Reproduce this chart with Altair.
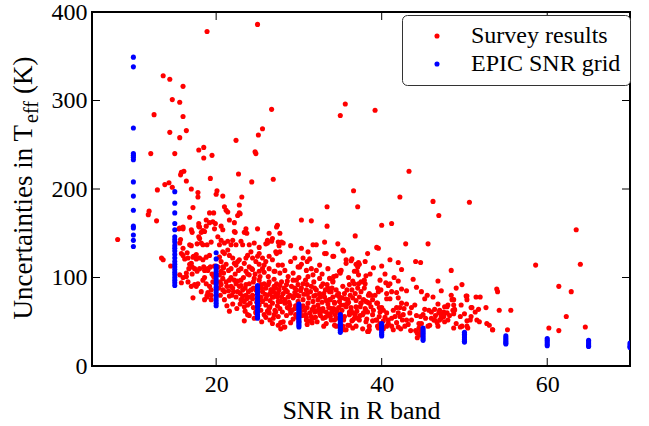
import altair as alt
import pandas as pd

FONT = "'Liberation Serif', 'Times New Roman', Times, serif"

# ---------------- data ----------------
series_names = ["Survey results", "EPIC SNR grid"]
series_colors = ["#ff0000", "#0000ff"]

# EPIC SNR grid: SNR value and the uncertainties plotted at that SNR
blue_snr = [10, 15, 20, 25, 30, 35, 40, 45, 50, 55, 60, 65, 70]
blue_unc = [
    [349, 338, 269, 240, 238, 236, 233, 208, 192, 176, 158, 156, 148, 142, 135],
    [197, 184, 173, 161, 154, 146, 143, 140, 136, 133, 130, 126, 122, 118, 115, 112, 109, 106, 103, 100, 97, 94, 91],
    [128, 121, 113, 110, 107, 104, 101, 98, 95, 92, 89, 86, 83, 80, 77, 74, 71, 68],
    [91, 88, 86, 83, 81, 78, 76, 73, 71, 68, 66, 63, 61, 58, 56, 54],
    [70, 68, 66, 64, 62, 60, 58, 56, 54, 52, 50, 48, 46, 44],
    [58, 56, 54, 52, 50, 48, 46, 44, 42, 40, 38],
    [48, 46, 44, 42, 40, 38, 36, 34],
    [43, 41, 39, 37, 35, 33, 31, 29],
    [38, 36, 34, 32, 30, 28, 27],
    [34, 32, 30, 28, 26, 25],
    [31, 29, 27, 25, 23],
    [29, 27, 25, 23, 22],
    [26, 24, 22, 21],
]

# Survey results: (SNR, uncertainty) pairs
red_sparse_left = [
    (8.1, 143), (11.8, 171), (11.9, 175), (12.1, 240), (12.5, 284), (12.8, 164), (12.9, 199),
    (13.4, 122), (13.6, 120), (13.6, 328), (13.8, 205), (14.3, 207), (14.4, 324), (14.4, 264),
    (14.5, 113), (14.7, 301), (14.7, 202), (15.0, 240), (15.5, 155), (15.6, 298), (15.6, 258),
    (15.7, 216), (15.8, 219), (16.0, 316), (16.0, 282), (16.1, 220), (16.4, 266), (16.4, 209),
    (16.8, 168), (17.0, 200), (17.2, 179), (17.8, 196), (17.8, 191), (17.9, 244), (18.5, 247),
    (18.5, 235), (18.9, 378), (19.3, 212), (19.5, 238), (20.1, 198), (20.0, 194), (20.8, 192),
    (22.4, 255), (22.7, 217), (23.1, 191), (24.3, 208), (24.7, 242), (24.8, 240), (25.0, 386),
    (25.1, 261), (25.6, 268), (26.7, 290), (26.9, 211),
]

red_sparse_right = [
    (35.0, 283), (35.6, 296), (36.6, 198), (37.1, 180), (39.2, 289), (42.2, 191), (43.3, 220),
    (46.2, 186), (46.9, 170), (50.6, 185), (36.8, 147), (63.5, 154), (42.9, 138), (45.6, 138),
    (39.6, 133), (38.3, 127), (41.2, 161), (40.0, 159), (58.6, 114), (64.0, 115), (61.4, 90),
    (62.9, 84), (62.3, 56), (60.2, 43), (64.6, 44), (61.4, 40), (55.6, 63), (54.2, 63),
    (52.6, 66), (55.2, 41), (53.4, 41), (53.9, 87), (54.0, 84), (51.9, 78), (50.3, 79),
    (49.7, 92), (48.4, 108), (46.8, 96), (44.2, 89), (44.1, 118), (44.7, 117), (42.4, 109),
    (33.4, 180), (30.3, 165), (31.5, 164), (33.4, 158), (27.4, 159),
]

red_upper = [
    (15.6, 156), (16.0, 155), (17.0, 154), (17.1, 151), (18.0, 157), (18.6, 152), (18.8, 158),
    (19.8, 155), (20.8, 154), (22.2, 152), (23.6, 155), (23.4, 151), (25.0, 155), (26.4, 150),
    (27.3, 157), (27.7, 150), (19.2, 173), (19.7, 173), (21.0, 180), (21.2, 176), (21.4, 174),
    (22.8, 182), (22.8, 173), (22.6, 170), (22.9, 172), (18.8, 165), (19.2, 162), (19.6, 163),
    (19.9, 161), (20.6, 158), (21.6, 165), (22.2, 162), (17.9, 161), (17.9, 158), (18.2, 151),
    (18.4, 153), (22.3, 151), (23.7, 150), (16.0, 157),
    (15.6, 139), (15.7, 143), (16.8, 137), (17.0, 136), (17.7, 138), (17.9, 146), (18.0, 144),
    (18.2, 139), (18.4, 137), (18.9, 137), (19.4, 140), (20.2, 146), (20.4, 137), (20.6, 142),
    (21.0, 139), (21.4, 141), (21.8, 137), (22.0, 142), (22.4, 137), (23.0, 141), (23.2, 137),
    (24.0, 137), (24.6, 139), (25.2, 134), (26.2, 139), (26.8, 144), (27.5, 140), (26.0, 138),
    (26.2, 142), (27.9, 140), (27.6, 136), (29.0, 136), (30.3, 133), (31.1, 129), (32.1, 137),
    (33.1, 140), (34.7, 138), (35.4, 130), (34.2, 124), (33.3, 127), (26.7, 141), (28.1, 139),
    (31.7, 137), (27.7, 129), (27.3, 127), (33.1, 127), (34.1, 124), (35.3, 131), (39.4, 134),
    (15.8, 127), (16.0, 125), (16.5, 128), (16.0, 133), (16.6, 122), (17.2, 123), (17.6, 126),
    (18.0, 122), (18.4, 120), (18.8, 123), (19.2, 125), (16.2, 121), (17.3, 124), (17.6, 121),
    (20.4, 123), (20.8, 129), (21.0, 127), (21.4, 131), (21.6, 125), (22.0, 122), (22.8, 120),
    (23.6, 122), (23.8, 125), (24.2, 129), (24.4, 122), (25.0, 124), (25.2, 127), (25.6, 122),
    (26.4, 124), (27.2, 129), (26.8, 120), (29.5, 122), (30.5, 122), (31.3, 121), (35.7, 120),
    (36.3, 119), (36.4, 121), (37.3, 115), (37.1, 112), (36.9, 115), (37.2, 117),
]

red_mid = [
    (17.0, 116), (17.1, 112), (16.8, 115), (16.7, 110), (17.4, 110), (18.0, 110), (18.6, 108),
    (19.0, 110), (18.5, 112), (19.0, 108), (19.8, 113), (19.3, 112), (22.2, 116), (22.4, 114),
    (22.6, 118), (21.8, 110), (21.2, 115), (20.8, 112), (20.6, 118), (23.0, 110), (23.4, 116),
    (24.8, 118), (25.8, 114), (26.0, 118), (27.5, 114), (23.6, 107), (24.0, 103), (24.4, 109),
    (25.2, 107), (25.6, 110), (26.4, 110), (27.0, 107), (20.9, 111), (20.2, 112), (20.6, 107),
    (20.9, 105), (21.5, 108), (22.7, 108), (24.3, 110), (24.0, 112), (25.2, 115), (28.0, 114),
    (29.0, 118), (30.1, 112), (31.0, 118), (32.5, 114), (33.5, 110), (30.3, 115), (29.9, 112),
    (31.5, 110), (32.1, 108), (30.9, 108), (27.1, 107), (28.3, 108), (34.9, 107), (35.1, 108),
    (36.7, 107), (35.0, 105), (37.0, 107), (37.2, 103), (38.1, 102), (38.6, 104), (40.4, 104),
    (40.0, 113), (41.0, 120), (42.0, 117), (39.0, 111), (38.0, 118), (35.7, 116),
    (15.6, 103), (16.0, 100), (16.4, 105), (17.1, 104), (17.7, 107), (18.6, 100), (19.5, 104),
    (19.7, 101), (16.4, 101), (20.4, 103), (20.8, 99), (21.8, 100), (22.3, 104), (23.3, 100),
    (23.8, 104), (24.7, 104), (25.3, 101), (25.8, 106), (26.3, 101), (27.7, 105), (28.7, 101),
    (29.3, 105), (29.3, 97), (30.0, 100), (31.1, 101), (31.7, 103), (32.5, 99), (32.8, 104),
    (33.7, 99), (34.5, 102), (36.0, 100), (34.1, 96), (34.2, 101), (36.5, 96), (37.9, 97),
    (39.8, 97), (41.5, 100), (18.4, 97), (21.6, 97), (23.0, 97), (24.6, 99), (25.2, 97),
    (27.0, 98), (29.7, 97), (22.2, 97), (15.8, 94), (16.6, 95), (19.6, 95), (21.2, 95),
    (26.4, 95), (28.6, 96), (31.8, 95), (34.1, 95), (37.5, 95), (38.0, 93), (37.2, 93),
]

red_low1 = [
    (17.6, 90), (17.4, 92), (17.8, 93), (18.8, 93), (19.2, 90), (17.0, 90), (18.2, 84),
    (19.0, 83), (19.4, 86), (17.2, 77), (18.9, 78), (18.9, 80), (19.4, 75), (18.6, 75),
    (19.4, 80), (20.6, 92), (21.8, 90), (22.0, 88), (22.4, 93), (22.6, 84), (22.8, 90),
    (23.2, 86), (23.6, 92), (24.0, 93), (24.2, 86), (24.4, 80), (25.4, 92), (25.6, 84),
    (25.8, 93), (26.0, 88), (26.2, 80), (26.6, 86), (26.8, 78), (27.0, 90), (27.2, 82),
    (27.5, 73), (22.4, 78), (23.0, 75), (23.4, 73), (23.8, 69), (23.6, 80), (25.6, 73),
    (26.0, 69), (26.8, 71), (25.2, 69), (24.0, 78), (21.0, 84), (20.3, 88), (20.5, 95),
    (20.5, 80), (21.0, 75), (21.9, 80), (21.5, 85), (23.2, 79), (23.9, 84), (24.5, 88),
    (25.0, 83), (25.4, 78), (24.9, 72), (24.1, 71), (22.9, 70), (22.6, 96), (23.5, 88),
    (24.5, 95), (25.5, 88), (26.3, 92), (26.0, 76), (26.5, 82), (27.2, 88), (27.9, 78),
    (28.4, 86), (28.9, 80), (29.5, 83), (30.0, 79), (30.6, 81), (31.2, 77), (31.8, 79),
    (32.3, 75), (32.8, 72), (33.5, 70), (27.8, 73), (28.3, 75), (28.8, 72), (27.4, 78),
    (32.7, 90), (33.4, 92), (34.0, 88), (34.8, 82), (35.8, 86), (36.8, 82), (36.0, 72),
    (34.9, 73), (33.0, 82), (31.0, 92), (29.9, 92), (26.7, 86), (29.5, 88), (28.5, 92),
    (27.9, 95), (27.3, 93), (30.3, 88), (30.5, 93), (30.9, 86), (31.5, 90), (32.1, 86),
    (32.5, 82), (32.9, 93), (33.5, 88), (33.9, 84), (34.5, 86), (35.3, 90), (36.1, 92),
    (36.7, 93), (37.1, 88), (37.5, 84), (38.5, 82), (39.2, 80), (39.6, 84), (37.3, 78),
    (36.5, 77), (35.9, 75), (35.5, 82), (34.9, 78), (34.3, 71), (33.7, 75), (33.1, 78),
    (29.7, 86), (29.1, 90), (26.9, 78), (27.5, 82), (28.1, 82), (28.7, 78), (29.3, 77),
    (29.9, 73), (30.5, 75), (31.1, 71), (31.7, 73), (38.7, 80), (38.4, 80), (39.5, 88),
    (39.9, 86), (40.5, 94), (40.6, 76), (38.5, 71), (39.5, 71), (40.8, 91), (41.0, 93),
    (42.4, 87), (41.8, 83), (41.2, 84), (40.6, 82), (41.0, 76), (38.9, 75), (37.8, 75),
    (38.3, 72), (35.6, 76), (34.1, 78), (33.7, 84), (33.8, 75), (35.9, 71), (38.1, 73),
    (39.4, 71), (37.5, 71), (42.0, 77), (43.0, 85), (44.8, 84), (45.2, 76), (46.2, 78),
    (47.2, 85), (49.0, 88), (45.5, 80), (48.4, 80), (48.5, 75), (50.2, 79), (50.3, 75),
    (48.7, 75), (51.4, 78), (43.8, 98), (42.0, 96),
    (28.2, 88), (29.8, 80), (31.4, 84), (32.0, 80), (33.2, 86), (30.8, 97), (27.6, 86),
    (25.0, 90), (24.4, 76), (22.9, 82), (21.3, 90), (20.8, 86), (36.4, 86), (37.9, 88),
    (22.1, 84), (23.0, 91), (24.8, 86), (25.9, 81), (26.9, 84), (27.7, 91), (28.6, 84),
    (29.4, 79), (30.2, 85), (31.0, 81), (31.9, 88), (32.6, 78), (33.3, 74), (34.6, 80),
    (35.2, 77), (36.2, 80), (36.9, 74), (21.6, 79), (23.7, 76), (25.2, 75), (26.5, 74),
]

red_low2 = [
    (21.6, 62), (21.3, 68), (22.5, 65), (22.0, 70), (23.5, 62), (23.8, 58), (24.0, 57),
    (24.6, 54), (23.4, 67), (23.3, 74), (24.5, 66), (24.8, 60), (25.4, 63), (25.5, 50),
    (26.0, 55), (26.5, 52), (27.0, 58), (25.8, 58), (26.8, 48), (26.4, 65), (26.4, 60),
    (27.2, 61), (27.5, 56), (26.5, 67), (27.1, 63), (27.7, 65), (28.0, 61), (28.5, 57),
    (28.9, 64), (28.3, 71), (28.9, 69), (29.5, 65), (29.0, 60), (29.6, 58), (30.2, 62),
    (30.8, 58), (31.5, 56), (32.0, 62), (32.6, 57), (33.2, 55), (33.8, 59), (34.4, 58),
    (29.3, 53), (30.0, 50), (31.0, 47), (32.2, 50), (33.0, 45), (29.9, 70), (30.5, 68),
    (31.0, 66), (31.6, 64), (30.3, 67), (30.7, 63), (31.3, 60), (31.9, 61), (32.5, 60),
    (32.3, 69), (32.9, 65), (33.3, 61), (33.9, 65), (34.5, 63), (35.1, 69), (35.7, 67),
    (36.3, 63), (36.9, 67), (37.5, 71), (38.7, 67), (39.8, 61), (38.9, 58), (38.3, 61),
    (37.7, 58), (37.1, 54), (36.5, 52), (36.1, 58), (35.5, 56), (34.5, 54), (33.9, 52),
    (32.9, 54), (28.1, 50), (28.3, 44), (30.9, 52), (31.7, 54), (33.3, 48), (34.3, 46),
    (35.9, 46), (36.5, 43), (38.1, 50), (38.5, 41), (38.3, 39), (39.4, 52), (39.6, 43),
    (35.7, 41), (27.8, 49), (28.2, 44), (31.3, 51), (37.0, 62), (37.4, 67), (38.0, 65),
    (39.0, 63), (39.7, 66), (36.3, 66), (34.8, 66), (34.2, 65), (34.6, 62), (35.2, 63),
    (36.1, 61), (36.5, 60), (37.8, 60), (38.1, 63), (40.0, 66), (40.2, 63), (40.6, 60),
    (41.4, 63), (41.8, 66), (42.2, 66), (42.4, 71), (42.7, 65), (42.0, 60), (41.2, 54),
    (40.4, 55), (40.8, 52), (42.2, 56), (42.5, 52), (42.8, 45), (42.0, 44), (41.4, 41),
    (40.2, 51), (39.3, 52), (38.9, 51), (38.2, 53), (37.3, 52), (36.7, 54), (35.9, 71),
    (35.5, 69), (34.3, 72), (33.8, 56), (34.3, 52), (34.9, 54), (35.4, 52), (35.3, 45),
    (34.5, 45), (35.5, 41), (36.1, 46), (36.9, 45), (36.4, 51), (38.5, 45), (37.7, 42),
    (39.5, 45), (40.6, 45), (43.0, 52), (43.4, 60), (43.6, 52), (44.2, 57), (44.5, 48),
    (44.7, 56), (44.1, 40), (44.6, 35), (44.3, 32), (45.2, 64), (45.7, 63), (45.3, 54),
    (45.8, 46), (46.0, 54), (46.3, 52), (46.7, 49), (47.2, 56), (47.4, 59), (47.9, 60),
    (47.6, 67), (48.0, 69), (48.6, 63), (48.8, 64), (48.7, 69), (49.6, 69), (50.0, 59),
    (49.7, 45), (50.3, 45), (50.7, 52), (50.8, 56), (51.3, 61), (51.7, 64), (50.9, 66),
    (46.8, 70), (43.6, 66), (43.0, 70), (44.0, 69), (42.6, 58), (41.6, 56), (43.2, 47),
    (40.8, 48), (41.8, 49), (39.8, 48), (40.2, 42), (41.2, 45), (42.3, 42), (43.5, 40),
    (44.8, 48), (45.0, 58), (46.0, 61), (46.5, 57), (47.0, 63), (48.0, 52), (49.0, 48),
    (49.5, 56), (48.2, 57), (46.8, 45), (38.4, 39), (39.7, 56), (47.9, 67), (48.8, 63),
    (48.7, 59), (47.5, 61), (47.6, 50), (46.9, 60), (46.4, 64), (52.7, 48), (53.0, 46),
    (51.5, 52), (51.8, 50), (50.3, 51), (50.4, 43), (48.7, 43), (49.5, 44), (44.3, 37),
    (44.5, 43), (44.7, 40), (45.6, 45), (47.0, 52), (46.4, 52), (47.2, 54), (47.5, 56),
    (47.5, 58), (50.8, 66), (53.4, 41), (23.4, 51), (24.8, 61), (27.5, 46), (27.8, 42),
    (29.2, 63), (30.4, 57), (31.8, 67), (32.8, 62), (33.6, 66), (29.8, 55), (32.0, 55),
    (26.2, 62), (27.4, 68), (28.6, 66), (29.6, 68), (30.9, 55), (32.4, 65), (33.5, 58),
    (34.0, 61), (35.0, 59), (36.8, 58), (37.4, 57), (26.9, 54), (29.0, 49), (31.6, 49),
]

x_tick_values = [20, 40, 60]
y_tick_values = [0, 100, 200, 300, 400]
y_inner_ticks = [100, 200, 300]

# ---------------- build the table ----------------
rows = []
for group in (red_sparse_left, red_sparse_right, red_upper, red_mid, red_low1, red_low2):
    for s, u in group:
        rows.append({"snr": s, "unc": u, "series": series_names[0]})
for s, us in zip(blue_snr, blue_unc):
    for u in us:
        rows.append({"snr": s, "unc": u, "series": series_names[1]})
df = pd.DataFrame(rows)

W, H = 538, 354
xscale = alt.Scale(domain=[5, 70], nice=False, zero=False)
yscale = alt.Scale(domain=[0, 400], nice=False, zero=False)

xaxis = alt.Axis(values=x_tick_values, title="SNR in R band", ticks=False, domain=False, grid=False,
                 labelFont=FONT, labelFontSize=24, labelColor="black", labelPadding=6,
                 labelFlush=False, titleFont=FONT, titleFontSize=26, titleFontWeight="normal",
                 titleColor="black", titlePadding=1)
yaxis = alt.Axis(values=y_tick_values, title=None, ticks=False, domain=False, grid=False,
                 labelFont=FONT, labelFontSize=24, labelColor="black", labelPadding=5,
                 labelFlush=False)

X = alt.X("snr:Q", scale=xscale, axis=xaxis)
Y = alt.Y("unc:Q", scale=yscale, axis=yaxis)

points = alt.Chart(df).mark_circle(size=26, opacity=1, clip=True).encode(
    x=X,
    y=Y,
    color=alt.Color(
        "series:N",
        scale=alt.Scale(domain=series_names, range=series_colors),
        legend=alt.Legend(
            title=None, orient="none", legendX=310, legendY=3, direction="vertical",
            strokeColor="#333333", cornerRadius=5, fillColor="white", padding=9,
            symbolOffset=14, symbolSize=26, symbolType="circle", symbolStrokeWidth=0,
            labelFont=FONT, labelFontSize=24, labelColor="black", labelOffset=22,
            labelLimit=300, rowPadding=4,
        ),
    ),
)

xt_df = pd.DataFrame({"snr": x_tick_values})
yt_df = pd.DataFrame({"unc": y_inner_ticks})
tick_len = 8
ticks_bottom = alt.Chart(xt_df).mark_rule(color="black", strokeWidth=1).encode(
    x=X, y=alt.value(H), y2=alt.value(H - tick_len))
ticks_top = alt.Chart(xt_df).mark_rule(color="black", strokeWidth=1).encode(
    x=X, y=alt.value(0), y2=alt.value(tick_len))
ticks_left = alt.Chart(yt_df).mark_rule(color="black", strokeWidth=1).encode(
    y=Y, x=alt.value(0), x2=alt.value(tick_len))
ticks_right = alt.Chart(yt_df).mark_rule(color="black", strokeWidth=1).encode(
    y=Y, x=alt.value(W), x2=alt.value(W - tick_len))

title_df = pd.DataFrame({"main": ["Uncertainties in T"], "sub": ["eff"], "unit": ["(K)"]})
ytitle_main = alt.Chart(title_df).mark_text(
    angle=270, align="right", baseline="alphabetic", font=FONT, fontSize=27, color="black"
).encode(x=alt.value(-60), y=alt.value(113), text="main:N")
ytitle_sub = alt.Chart(title_df).mark_text(
    angle=270, align="left", baseline="alphabetic", font=FONT, fontSize=20, color="black"
).encode(x=alt.value(-54), y=alt.value(111), text="sub:N")
ytitle_unit = alt.Chart(title_df).mark_text(
    angle=270, align="left", baseline="alphabetic", font=FONT, fontSize=27, color="black"
).encode(x=alt.value(-60), y=alt.value(82), text="unit:N")

chart = alt.layer(
    points, ticks_bottom, ticks_top, ticks_left, ticks_right,
    ytitle_main, ytitle_sub, ytitle_unit,
).properties(
    width=W, height=H,
    padding={"left": 92, "top": 12, "right": 19, "bottom": 60},
    autosize=alt.AutoSizeParams(type="none"),
    background="white",
).configure_view(stroke="black", strokeWidth=2)

chart.save("out.html", embed_options={"renderer": "svg", "actions": False})
